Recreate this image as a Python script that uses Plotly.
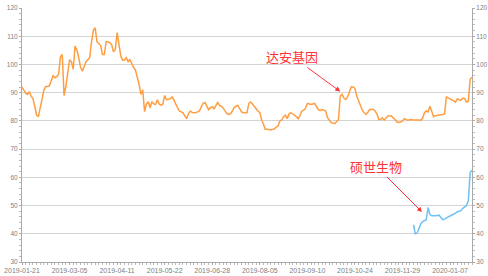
import pandas as pd
import plotly.graph_objects as go

START_DATE = "2019-01-21"
END_DATE = "2020-01-23"
HOLIDAYS = ["2019-02-04", "2019-02-05", "2019-02-06", "2019-02-07", "2019-02-08",
            "2019-04-05", "2019-05-01", "2019-05-02", "2019-05-03", "2019-06-07",
            "2019-09-13", "2019-10-01", "2019-10-02", "2019-10-03", "2019-10-04",
            "2019-10-07", "2020-01-01"]

dates = [d.strftime("%Y-%m-%d") for d in pd.bdate_range(START_DATE, END_DATE)
         if d.strftime("%Y-%m-%d") not in HOLIDAYS]

daan = [
    92, 90.8, 89.8, 89.4, 90.4, 88.8, 87.8, 85, 82, 81.6,
    84.5, 88, 91, 92.2, 92.2, 92.5, 94.5, 96, 95.3, 95.7,
    96.5, 102.7, 103.5, 89, 92.2, 97, 101.7, 101, 98.3, 106.5,
    105, 102.5, 99, 97.6, 99.5, 101, 101.7, 102.4, 108, 112,
    113, 108, 107.4, 106.7, 103.5, 103.5, 108, 108, 107.7, 107,
    104.5, 105.3, 111.3, 106.5, 103, 101.5, 101.5, 102.4, 101, 101.7,
    100, 99, 98, 95.5, 93, 89.4, 91, 83.3, 86, 86.8,
    84.6, 86.8, 86, 85.8, 87.5, 86, 85.5, 86, 89, 87.5,
    87.6, 87.8, 88.5, 87.5, 86, 84.8, 83.5, 83.2, 82.9, 81.8,
    80.8, 82.5, 83.5, 83, 82.9, 82.9, 83.2, 83.5, 85, 86.2,
    86.5, 85, 84, 84.7, 85, 84.3, 85.5, 86.5, 85.5, 85.2,
    84.5, 83.5, 82.6, 82.3, 82.5, 83.5, 84.7, 85.2, 85.5, 84.3,
    83.2, 82.9, 82.9, 82.9, 86.2, 86.7, 86, 85, 84.3, 83.5,
    82.9, 80.5, 78.5, 77, 77, 76.9, 76.8, 77, 77.2, 77.8,
    78.2, 80, 80.3, 81.5, 82, 80.8, 82.5, 82.9, 82.3, 82,
    81.5, 80.8, 82, 83.5, 83.8, 84.5, 86.2, 86, 85.8, 86,
    86.2, 85, 84, 83.6, 84, 83.8, 83.5, 81.1, 80.2, 79.4,
    79.2, 79, 79.8, 80.4, 88.8, 89.4, 88, 87.6, 88.5, 90.5,
    92.1, 92, 91.5, 88.8, 87, 85.5, 83.8, 83, 82.3, 83,
    84, 84, 84.1, 83.5, 82.5, 80.5, 80.5, 81.1, 80.3, 81,
    81.7, 81.7, 81.7, 81, 80.5, 79.6, 79.4, 79.6, 80, 80.8,
    80.5, 80.2, 80.4, 80.5, 80.3, 80.2, 80.3, 80.3, 80.2, 81,
    82.9, 83.5, 83.2, 85.2, 83.2, 81.5, 81.8, 82, 82.1, 82.2,
    82.3, 82.5, 88.5, 88.1, 87.6, 87.3, 87, 86.7, 87.8, 87.5,
    87.3, 88.1, 87.9, 86.7, 87, 94.7, 95.5,
]

shuoshi_start = "2019-12-09"
shuoshi = [
    43.2, 40, 40.2, 42, 43.5, 44.3, 44.7, 45, 49.3, 46.8,
    46.4, 46.3, 46.4, 46.5, 46.6, 45.8, 45, 45.2, 45.7, 46,
    46.3, 46.6, 47, 47.3, 47.8, 48, 48.2, 49, 49.6, 50,
    51.7, 61.7, 62.5,
]

TICK_STEP = 26
Y_TICKS = [30, 40, 50, 60, 70, 80, 90, 100, 110, 120]

idx = list(range(len(dates)))
s0 = dates.index(shuoshi_start)
idx_s = idx[s0:s0 + len(shuoshi)]

tickvals = idx[::TICK_STEP]
ticktext = [dates[i] for i in tickvals]

fig = go.Figure()
fig.add_trace(go.Scatter(x=idx[:len(daan)], y=daan, mode="lines",
                         line=dict(color="#ff9e40", width=1.5), name="达安基因",
                         showlegend=False))
fig.add_trace(go.Scatter(x=idx_s, y=shuoshi, mode="lines",
                         line=dict(color="#6ec1f5", width=1.5), name="硕世生物",
                         showlegend=False))
# invisible trace to activate right axis
fig.add_trace(go.Scatter(x=[idx[0]], y=[Y_TICKS[0]], yaxis="y2", mode="markers",
                         marker=dict(opacity=0), showlegend=False, hoverinfo="skip"))

tickfont = dict(family="Liberation Sans", size=7, color="#808080")
ytickfont = dict(family="Liberation Sans", size=6.5, color="#808080")

fig.update_layout(
    width=488, height=276,
    margin=dict(l=22, r=16, t=8, b=14, autoexpand=False),
    paper_bgcolor="white", plot_bgcolor="white",
    xaxis=dict(range=[idx[0], idx[-1]], tickvals=tickvals, ticktext=ticktext,
               tickfont=tickfont, showgrid=False, showline=True, linecolor="#aaaaaa",
               linewidth=1, ticks="outside", ticklen=2, tickcolor="#aaaaaa",
               automargin=False,
               minor=dict(ticks="outside", ticklen=2, tickcolor="#bbbbbb", dtick=2,
                          showgrid=False),
               zeroline=False),
    yaxis=dict(range=[30, 120], tickvals=Y_TICKS, tickfont=ytickfont,
               showgrid=True, gridcolor="#d4d4d4", gridwidth=1,
               showline=True, linecolor="#aaaaaa", linewidth=1, automargin=False,
               ticks="outside", ticklen=2, tickcolor="#aaaaaa",
               minor=dict(ticks="outside", ticklen=2, tickcolor="#bbbbbb", dtick=2,
                          showgrid=False),
               zeroline=False),
    yaxis2=dict(range=[30, 120], tickvals=Y_TICKS, tickfont=ytickfont, overlaying="y",
                side="right", showgrid=False, showline=True, linecolor="#aaaaaa",
                linewidth=1, ticks="outside", ticklen=2, tickcolor="#aaaaaa",
                automargin=False,
                minor=dict(ticks="outside", ticklen=2, tickcolor="#bbbbbb", dtick=2),
                zeroline=False),
    annotations=[
        dict(x=174, y=90.4, xref="x", yref="y", text="达安基因", showarrow=True,
             ax=-48, ay=-35, arrowhead=2, arrowsize=1, arrowwidth=1,
             arrowcolor="#ff3333",
             font=dict(family="Noto Sans CJK SC", size=13, color="#ff3333")),
        dict(x=218.7, y=47.7, xref="x", yref="y", text="硕世生物", showarrow=True,
             ax=-46, ay=-46, arrowhead=2, arrowsize=1, arrowwidth=1,
             arrowcolor="#ff3333",
             font=dict(family="Noto Sans CJK SC", size=13, color="#ff3333")),
    ],
)

fig.write_html("out.html")
